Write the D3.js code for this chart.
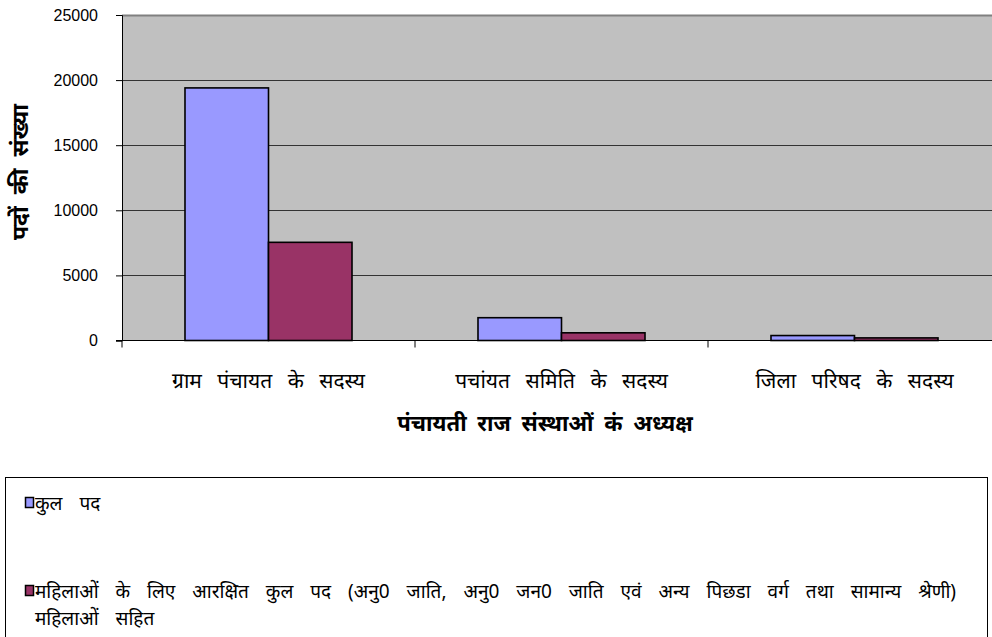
<!DOCTYPE html>
<html>
<head>
<meta charset="utf-8">
<script src="https://cdn.jsdelivr.net/npm/d3@7"></script>
<style>
  html, body { margin: 0; padding: 0; background: #fff; overflow: hidden; }
  svg { display: block; }
  .hi { font-family: "Noto Sans", "Lohit Devanagari", sans-serif; }
</style>
</head>
<body>
<svg id="chart" width="992" height="637"></svg>
<script>
// ---- data ----
const categories = ["ग्राम पंचायत के सदस्य", "पचांयत समिति के सदस्य", "जिला परिषद के सदस्य"];
const seriesNames = ["कुल पद", "महिलाओं के लिए आरक्षित कुल पद (अनु0 जाति, अनु0 जन0 जाति एवं अन्य पिछडा वर्ग तथा सामान्य श्रेणी)"];
const seriesNameLine2 = "महिलाओं सहित";
const totalPosts = [19400, 1750, 380];
const womenPosts = [7540, 590, 200];
const yTicks = [0, 5000, 10000, 15000, 20000, 25000];
const yTitle = "पदों की संख्या";
const xTitle = "पंचायती राज संस्थाओं कं अध्यक्ष";
const colors = ["#9999FF", "#993366"];

const svg = d3.select("#chart");
const plot = { left: 122, top: 15, bottom: 340.5, step: 293 };

const y = d3.scaleLinear().domain([0, 25000]).range([plot.bottom, plot.top]);
const x0 = d3.scaleBand().domain(categories)
  .range([plot.left, plot.left + plot.step * categories.length])
  .paddingInner(0.43).paddingOuter(0.215);
const x1 = d3.scaleBand().domain([0, 1]).range([0, x0.bandwidth()]);

// plot background
svg.append("rect").attr("x", plot.left).attr("y", plot.top)
  .attr("width", 992 - plot.left).attr("height", plot.bottom - plot.top)
  .attr("fill", "#C0C0C0");

// gridlines
svg.append("g").selectAll("line").data(yTicks.filter(d => d > 0)).join("line")
  .attr("x1", plot.left).attr("x2", 992)
  .attr("y1", d => Math.round(y(d)) + 0.5).attr("y2", d => Math.round(y(d)) + 0.5)
  .attr("stroke", d => d === 25000 ? "#808080" : "#333").attr("stroke-width", d => d === 25000 ? 2 : 1);

// bars
const data = categories.map((c, i) => ({ c, vals: [totalPosts[i], womenPosts[i]] }));
const g = svg.append("g").selectAll("g").data(data).join("g")
  .attr("transform", d => `translate(${x0(d.c)},0)`);
g.selectAll("rect").data(d => d.vals.map((v, k) => ({ v, k }))).join("rect")
  .attr("x", d => x1(d.k)).attr("width", x1.bandwidth())
  .attr("y", d => y(d.v)).attr("height", d => y(0) - y(d.v))
  .attr("fill", d => colors[d.k]).attr("stroke", "#000").attr("stroke-width", 1.6);

// y axis
const yAxis = svg.append("g").attr("transform", `translate(${plot.left},0)`)
  .call(d3.axisLeft(y).tickValues(yTicks).tickSize(6).tickPadding(18).tickFormat(d3.format("d")));
yAxis.select(".domain").attr("stroke", "#000");
yAxis.selectAll("line").attr("stroke", "#000");
yAxis.selectAll("text").attr("font-family", "Arial, 'Liberation Sans', sans-serif").attr("font-size", 16).attr("fill", "#000");

// x axis
const xAxisG = svg.append("g");
xAxisG.append("line").attr("x1", plot.left - 6).attr("x2", 992)
  .attr("y1", plot.bottom).attr("y2", plot.bottom).attr("stroke", "#000");
const boundaries = d3.range(categories.length + 1).map(i => plot.left + i * x0.step());
xAxisG.selectAll(".tk").data(boundaries).join("line").attr("class", "tk")
  .attr("x1", d => d).attr("x2", d => d).attr("y1", plot.bottom).attr("y2", plot.bottom + 7)
  .attr("stroke", "#000");
xAxisG.selectAll(".cat").data(categories).join("text").attr("class", "cat hi")
  .attr("x", d => x0(d) + x0.bandwidth() / 2).attr("y", 388)
  .attr("text-anchor", "middle").attr("font-size", 21).attr("word-spacing", 10).attr("fill", "#000")
  .text(d => d);

// axis titles
svg.append("text").attr("class", "hi")
  .attr("transform", "translate(28,172) rotate(-90)")
  .attr("text-anchor", "middle").attr("font-size", 23).attr("font-weight", "bold").attr("word-spacing", 6)
  .text(yTitle);
svg.append("text").attr("class", "hi")
  .attr("x", 545).attr("y", 431).attr("text-anchor", "middle")
  .attr("font-size", 22).attr("font-weight", "bold").attr("word-spacing", 5).text(xTitle);

// legend
svg.append("rect").attr("x", 5.5).attr("y", 477.5).attr("width", 982).attr("height", 200)
  .attr("fill", "#fff").attr("stroke", "#000");
const leg = [{ k: 0, y: 503, lines: [seriesNames[0]] }, { k: 1, y: 591, lines: [seriesNames[1], seriesNameLine2] }];
const lg = svg.append("g").selectAll("g").data(leg).join("g");
lg.append("rect").attr("x", 25.5).attr("y", d => d.y - 5.5).attr("width", 8).attr("height", 10)
  .attr("fill", d => colors[d.k]).attr("stroke", "#000").attr("stroke-width", 1.5);
lg.each(function(d) {
  d3.select(this).selectAll("text").data(d.lines).join("text").attr("class", "hi")
    .attr("x", 35).attr("y", (t, i) => d.y + 7 + i * 27)
    .attr("font-size", 19).attr("word-spacing", 12).attr("fill", "#000").text(t => t);
});
</script>
</body>
</html>
